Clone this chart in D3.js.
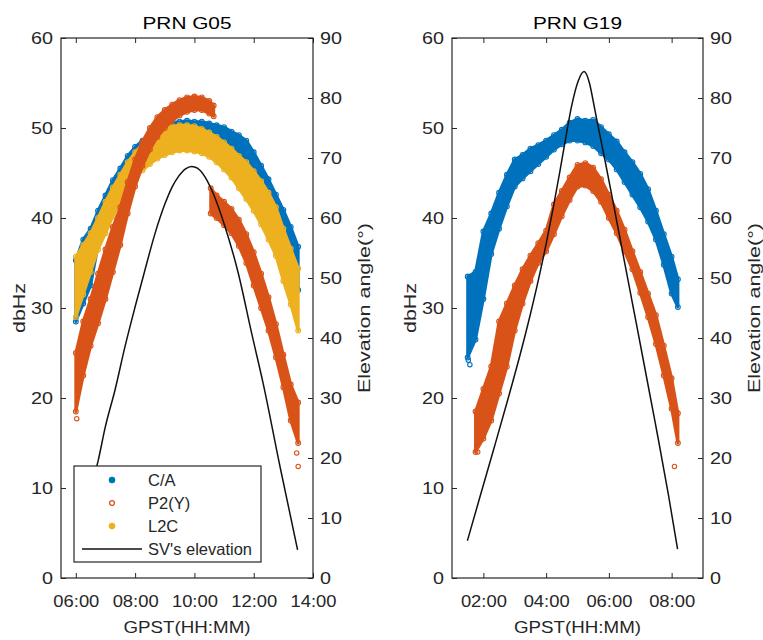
<!DOCTYPE html>
<html>
<head>
<meta charset="utf-8">
<script src="https://cdn.jsdelivr.net/npm/d3@7"></script>
<style>
body { margin: 0; background: #fff; }
svg text { font-family: "Liberation Sans", Arial, sans-serif; fill: #262626; }
</style>
</head>
<body>
<div id="chart"></div>
<script>
// ---- PRN G05 ----
var g05Time = [6.0, 6.25, 6.5, 6.75, 7.0, 7.25, 7.5, 7.75, 8.0, 8.25, 8.5, 8.75, 9.0, 9.25, 9.5, 9.75,
  10.0, 10.25, 10.5, 10.75, 11.0, 11.25, 11.5, 11.75, 12.0, 12.25, 12.5, 12.75, 13.0, 13.25, 13.5];
var caG05Hi = [35.3, 37.6, 38.8, 40.8, 42.5, 44.2, 45.5, 46.9, 47.9, 48.6, 49.3, 49.9, 50.4, 50.6, 50.7, 50.8,
  50.7, 50.7, 50.5, 50.3, 50.1, 49.6, 49.2, 48.6, 47.3, 45.8, 44.3, 42.6, 40.9, 39.0, 36.8];
var caG05Lo = [28.5, 30.5, 32.5, 37.0, 38.8, 40.7, 42.3, 43.7, 44.9, 45.8, 46.5, 47.1, 47.5, 47.8, 48.0, 48.0,
  47.9, 47.7, 47.3, 46.7, 45.9, 45.0, 43.8, 42.6, 41.3, 39.8, 38.1, 36.3, 34.5, 33.5, 32.0];
var l2cG05Hi = [35.7, 37.0, 38.3, 40.0, 41.8, 43.4, 44.8, 46.2, 47.3, 48.2, 48.9, 49.5, 49.9, 50.2, 50.3, 50.3,
  50.2, 49.9, 49.5, 49.0, 48.4, 47.7, 46.9, 46.2, 45.2, 44.1, 42.8, 41.2, 38.8, 36.6, 34.4];
var l2cG05Lo = [29.0, 31.5, 34.0, 36.5, 38.3, 40.2, 41.8, 43.2, 44.4, 45.3, 46.0, 46.6, 47.0, 47.3, 47.5, 47.5,
  47.4, 47.2, 46.8, 46.2, 45.4, 44.5, 43.3, 42.1, 40.8, 39.3, 37.6, 35.8, 33.0, 30.4, 27.5];
// P2(Y) has a gap near 10:35, two runs
var p2G05TimeA = [6.0, 6.25, 6.5, 6.75, 7.0, 7.25, 7.5, 7.75, 8.0, 8.25, 8.5, 8.75, 9.0, 9.25, 9.5, 9.75,
  10.0, 10.25, 10.5, 10.65];
var p2G05LoA = [18.5, 22.5, 25.8, 28.3, 31.0, 34.0, 37.0, 40.5, 43.5, 45.8, 47.6, 49.0, 50.0, 50.8, 51.4, 51.8,
  52.0, 52.0, 51.6, 51.3];
var p2G05HiA = [25.0, 28.5, 31.0, 33.8, 36.5, 39.0, 41.2, 44.0, 46.5, 48.5, 50.0, 51.2, 52.0, 52.6, 53.1, 53.4,
  53.5, 53.4, 53.0, 52.5];
var p2G05TimeB = [10.55, 10.75, 11.0, 11.25, 11.5, 11.75, 12.0, 12.25, 12.5, 12.75, 13.0, 13.25, 13.5];
var p2G05LoB = [40.5, 40.0, 39.2, 38.3, 36.9, 35.0, 32.5, 30.0, 27.5, 24.5, 21.2, 17.5, 15.0];
var p2G05HiB = [43.3, 42.5, 41.8, 41.0, 39.8, 38.2, 36.2, 33.8, 31.2, 28.2, 24.8, 21.5, 19.5];
var p2G05OutTime = [6.03, 13.45, 13.5];
var p2G05OutVal = [17.7, 13.9, 12.4];
var elevG05Time = [6.0, 6.25, 6.5, 6.76, 7.0, 7.32, 7.66, 8.0, 8.33, 8.67, 9.01, 9.25, 9.46, 9.7, 9.91,
  10.1, 10.35, 10.58, 11.03, 11.48, 11.93, 12.32, 12.89, 13.48];
var elevG05 = [4.5, 9.8, 14.8, 19.7, 25.3, 31.3, 38.6, 45.2, 51.3, 57.4, 62.4, 65.2, 66.9, 68.2, 68.6,
  68.3, 66.9, 64.7, 58.6, 50.8, 40.8, 32.4, 18.5, 4.7];
var g05Ticks = [6, 8, 10, 12, 14];

// ---- PRN G19 ----
var caG19Time = [1.5, 1.75, 2.0, 2.25, 2.5, 2.75, 3.0, 3.25, 3.5, 3.75, 4.0, 4.25, 4.5, 4.75, 5.0, 5.25,
  5.5, 5.75, 6.0, 6.25, 6.5, 6.75, 7.0, 7.25, 7.5, 7.75, 8.0, 8.2];
var caG19Lo = [24.5, 26.5, 31.0, 36.0, 38.8, 41.3, 43.5, 44.4, 45.2, 46.0, 46.8, 47.6, 48.2, 48.6, 48.6, 48.4,
  48.0, 47.2, 46.5, 45.4, 44.0, 42.6, 41.2, 39.6, 37.6, 34.8, 31.6, 30.1];
var caG19Hi = [33.5, 34.0, 38.5, 40.5, 42.8, 44.8, 46.5, 47.0, 47.7, 48.1, 48.6, 49.2, 49.8, 50.6, 51.0, 50.8,
  50.9, 50.1, 49.3, 48.5, 47.3, 46.2, 44.9, 43.2, 40.8, 38.2, 35.7, 33.2];
var caG19OutTime = [1.57, 1.52];
var caG19OutVal = [23.7, 24.2];
var p2G19Time = [1.75, 2.0, 2.25, 2.5, 2.75, 3.0, 3.25, 3.5, 3.75, 4.0, 4.25, 4.5, 4.75, 5.0, 5.25, 5.5,
  5.75, 6.0, 6.25, 6.5, 6.75, 7.0, 7.25, 7.5, 7.75, 8.0, 8.2];
var p2G19Lo = [14.0, 15.5, 17.5, 20.5, 23.5, 27.5, 30.5, 33.0, 35.0, 36.3, 38.2, 40.2, 42.0, 43.5, 43.6, 43.0,
  41.8, 40.0, 38.3, 36.3, 34.3, 31.7, 29.0, 26.0, 22.5, 18.8, 15.0];
var p2G19Hi = [18.5, 21.0, 23.5, 28.5, 30.5, 32.5, 34.3, 35.8, 37.2, 38.6, 41.5, 43.0, 44.5, 45.9, 46.1, 45.6,
  44.3, 42.6, 40.8, 38.7, 36.3, 34.0, 31.6, 29.2, 25.8, 22.2, 18.3];
var p2G19OutTime = [8.09, 1.82];
var p2G19OutVal = [12.4, 14.0];
var elevG19Time = [1.49, 1.89, 2.32, 2.75, 3.17, 3.49, 3.75, 4.02, 4.23, 4.44, 4.63, 4.81, 5.02, 5.21,
  5.38, 5.5, 5.61, 5.88, 6.14, 6.45, 6.78, 7.0, 7.4, 7.58, 7.9, 8.19];
var elevG19 = [6.2, 13.5, 21.3, 29.2, 37.2, 43.8, 49.6, 56.2, 61.8, 67.8, 73.5, 78.6, 82.8, 84.4,
  82.5, 79.5, 76.5, 69.5, 62.5, 54, 45, 39, 28, 23, 13.8, 4.8];
var g19Ticks = [2, 4, 6, 8];

var cnrTicks = [0, 10, 20, 30, 40, 50, 60];
var elevTicks = [0, 10, 20, 30, 40, 50, 60, 70, 80, 90];

var colCA = "#0072BD", colP2 = "#D95319", colL2C = "#EDB120";
var width = 763, height = 640;
var top0 = 38, bottom0 = 578;

var svg = d3.select("#chart").append("svg")
  .attr("width", width)
  .attr("height", height);

function hhmm(h) { return d3.format("02d")(h) + ":00"; }

function zip(t, a, b) {
  return t.map(function(d, i) { return {t: d, lo: a[i], hi: b ? b[i] : a[i]}; });
}

function drawPanel(p) {
  var x = d3.scaleLinear().domain(p.xDomain).range([p.left, p.right]);
  var y = d3.scaleLinear().domain([0, 60]).range([bottom0, top0]);
  var yR = d3.scaleLinear().domain([0, 90]).range([bottom0, top0]);
  var g = svg.append("g");
  var cx = (p.left + p.right) / 2;

  // C/N0 bands
  p.bands.forEach(function(b) {
    var pts = zip(b.t, b.lo, b.hi);
    var area = d3.area().x(function(d) { return x(d.t); })
      .y0(function(d) { return y(d.lo); })
      .y1(function(d) { return y(d.hi); });
    g.append("path").datum(pts)
      .attr("d", area)
      .attr("fill", b.color)
      .attr("stroke", b.color)
      .attr("stroke-width", 3)
      .attr("stroke-linejoin", "round");
    var edge = [];
    pts.forEach(function(d) { edge.push([d.t, d.lo]); edge.push([d.t, d.hi]); });
    g.selectAll(null).data(edge).enter().append("circle")
      .attr("cx", function(d) { return x(d[0]); })
      .attr("cy", function(d) { return y(d[1]); })
      .attr("r", 2.4)
      .attr("fill", "none")
      .attr("stroke", b.color)
      .attr("stroke-width", 1.1);
  });
  p.outliers.forEach(function(o) {
    g.selectAll(null).data(zip(o.t, o.v)).enter().append("circle")
      .attr("cx", function(d) { return x(d.t); })
      .attr("cy", function(d) { return y(d.lo); })
      .attr("r", 2.2)
      .attr("fill", "none")
      .attr("stroke", o.color)
      .attr("stroke-width", 1.1);
  });

  // elevation
  var line = d3.line().x(function(d) { return x(d.t); })
    .y(function(d) { return yR(d.lo); })
    .curve(d3.curveMonotoneX);
  g.append("path").datum(zip(p.elevT, p.elev))
    .attr("d", line)
    .attr("fill", "none")
    .attr("stroke", "#111")
    .attr("stroke-width", 1.5);

  // axes
  var xa = g.append("g").attr("transform", "translate(0," + bottom0 + ")")
    .call(d3.axisBottom(x).tickValues(p.ticks).tickFormat(hhmm).tickSize(-5).tickPadding(17));
  xa.selectAll("text").attr("font-size", 17).attr("textLength", 46).attr("lengthAdjust", "spacingAndGlyphs");
  g.append("g").attr("transform", "translate(0," + top0 + ")")
    .call(d3.axisTop(x).tickValues(p.ticks).tickFormat("").tickSize(-5));
  var ya = g.append("g").attr("transform", "translate(" + p.left + ",0)")
    .call(d3.axisLeft(y).tickValues(cnrTicks).tickSize(-5).tickPadding(8));
  ya.selectAll("text").attr("font-size", 17)
    .attr("textLength", function(d) { return String(d).length * 11; })
    .attr("lengthAdjust", "spacingAndGlyphs");
  var yra = g.append("g").attr("transform", "translate(" + p.right + ",0)")
    .call(d3.axisRight(yR).tickValues(elevTicks).tickSize(-5).tickPadding(7));
  yra.selectAll("text").attr("font-size", 17)
    .attr("textLength", function(d) { return String(d).length * 11; })
    .attr("lengthAdjust", "spacingAndGlyphs");
  g.selectAll(".domain").remove();
  g.selectAll(".tick line").attr("stroke", "#262626");
  g.append("rect")
    .attr("x", p.left).attr("y", top0)
    .attr("width", p.right - p.left).attr("height", bottom0 - top0)
    .attr("fill", "none").attr("stroke", "#262626").attr("stroke-width", 1.2);

  // labels
  g.append("text").attr("x", cx).attr("y", 29)
    .attr("text-anchor", "middle").attr("font-size", 17)
    .attr("textLength", 89).attr("lengthAdjust", "spacingAndGlyphs")
    .style("fill", "#000")
    .text(p.title);
  g.append("text").attr("x", cx).attr("y", 633)
    .attr("text-anchor", "middle").attr("font-size", 17)
    .attr("textLength", 127).attr("lengthAdjust", "spacingAndGlyphs")
    .text("GPST(HH:MM)");
  g.append("text")
    .attr("transform", "translate(" + (p.left - 36) + ",308) rotate(-90)")
    .attr("text-anchor", "middle").attr("font-size", 17)
    .attr("textLength", 50).attr("lengthAdjust", "spacingAndGlyphs")
    .text("dbHz");
  g.append("text")
    .attr("transform", "translate(" + (p.right + 57) + ",308) rotate(-90)")
    .attr("text-anchor", "middle").attr("font-size", 17)
    .attr("textLength", 170).attr("lengthAdjust", "spacingAndGlyphs")
    .text("Elevation angle(°)");
}

drawPanel({
  title: "PRN G05", xDomain: [5.5, 14], left: 61, right: 313, ticks: g05Ticks,
  bands: [
    {t: g05Time, lo: caG05Lo, hi: caG05Hi, color: colCA},
    {t: g05Time, lo: l2cG05Lo, hi: l2cG05Hi, color: colL2C},
    {t: p2G05TimeA, lo: p2G05LoA, hi: p2G05HiA, color: colP2},
    {t: p2G05TimeB, lo: p2G05LoB, hi: p2G05HiB, color: colP2}
  ],
  outliers: [{t: p2G05OutTime, v: p2G05OutVal, color: colP2}],
  elevT: elevG05Time, elev: elevG05
});

drawPanel({
  title: "PRN G19", xDomain: [1, 9], left: 452, right: 703, ticks: g19Ticks,
  bands: [
    {t: caG19Time, lo: caG19Lo, hi: caG19Hi, color: colCA},
    {t: p2G19Time, lo: p2G19Lo, hi: p2G19Hi, color: colP2}
  ],
  outliers: [{t: caG19OutTime, v: caG19OutVal, color: colCA}, {t: p2G19OutTime, v: p2G19OutVal, color: colP2}],
  elevT: elevG19Time, elev: elevG19
});

// legend (left panel only)
var legendItems = ["C/A", "P2(Y)", "L2C", "SV's elevation"];
var legend = svg.append("g").attr("transform", "translate(74,466)");
legend.append("rect").attr("width", 187).attr("height", 96)
  .attr("fill", "#fff").attr("stroke", "#262626").attr("stroke-width", 1.2);
var li = legend.selectAll("g.item").data(legendItems).enter().append("g")
  .attr("class", "item")
  .attr("transform", function(d, i) { return "translate(0," + (14 + i * 23) + ")"; });
li.append("text").attr("x", 74).attr("dy", "0.35em").attr("font-size", 16.5)
  .text(function(d) { return d; });
li.filter(function(d, i) { return i == 0; }).append("circle")
  .attr("cx", 38).attr("r", 3).attr("fill", colCA).attr("stroke", colCA).attr("stroke-width", 0.8);
li.filter(function(d, i) { return i == 1; }).append("circle")
  .attr("cx", 38).attr("r", 2.4).attr("fill", "none").attr("stroke", colP2).attr("stroke-width", 1.3);
li.filter(function(d, i) { return i == 2; }).append("circle")
  .attr("cx", 38).attr("r", 3).attr("fill", colL2C).attr("stroke", colL2C).attr("stroke-width", 0.8);
li.filter(function(d, i) { return i == 3; }).append("line")
  .attr("x1", 8).attr("x2", 68).attr("stroke", "#111").attr("stroke-width", 1.5);
</script>
</body>
</html>
